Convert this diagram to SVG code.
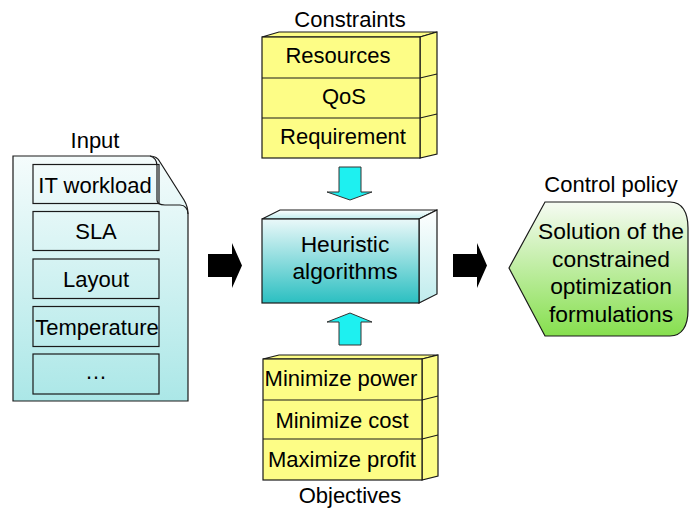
<svg xmlns="http://www.w3.org/2000/svg" width="689" height="512" viewBox="0 0 689 512">
<defs>
<linearGradient id="gDoc" x1="0" y1="0" x2="0" y2="1"><stop offset="0" stop-color="#f5fcfc"/><stop offset="1" stop-color="#abe7e7"/></linearGradient>
<linearGradient id="gFront" x1="0" y1="0" x2="0" y2="1"><stop offset="0" stop-color="#eaf8f9"/><stop offset="1" stop-color="#2bbfc1"/></linearGradient>
<linearGradient id="gSide" x1="0" y1="0" x2="0" y2="1"><stop offset="0" stop-color="#ffffff"/><stop offset="1" stop-color="#bfeced"/></linearGradient>
<linearGradient id="gGreen" x1="0" y1="0" x2="0" y2="1"><stop offset="0" stop-color="#f6fbf3"/><stop offset="1" stop-color="#86df4e"/></linearGradient>
</defs>
<style>
text{font-family:"Liberation Sans",Arial,Helvetica,sans-serif;font-size:22px;fill:#000;text-anchor:middle}
.big{font-size:22.8px}
.ln{stroke:#1a1a1a;stroke-width:1.2;fill:none}
.yel{fill:#fdfd86;stroke:#1a1a1a;stroke-width:1.2}
.cy{fill:#1ef0f0;stroke:#333;stroke-width:1}
.blk{fill:#000}
</style>
<g id="input">
<text x="95" y="148">Input</text>
<path d="M13,156 L150,156 C155,156 158,158 160,162 L184,200 C187,205 188,208 188,214 L188,401 L13,401 Z" fill="url(#gDoc)" stroke="#1a1a1a" stroke-width="1.2"/>
<path class="ln" d="M150,156 C154,157 157,160 157,166 L157,200 C157,203 160,205 165,205 L180,205 C185,205 188,209 188,214"/>
<rect class="ln" x="33" y="164.5" width="126" height="39"/>
<rect class="ln" x="33" y="211.5" width="126" height="39"/>
<rect class="ln" x="33" y="259" width="126" height="39.5"/>
<rect class="ln" x="33" y="306.5" width="126" height="40"/>
<rect class="ln" x="33" y="354" width="126" height="40"/>
<text x="95" y="193">IT workload</text>
<text x="96" y="239">SLA</text>
<text x="96" y="287">Layout</text>
<text x="97" y="335">Temperature</text>
<text x="96" y="379">…</text>
</g>
<g id="constraints">
<text x="350" y="27">Constraints</text>
<polygon class="yel" points="262,37 279,32 437,32 420,37"/>
<polygon class="yel" points="420,37 437,32 437,154 420,158"/>
<rect class="yel" x="262" y="37" width="158" height="121"/>
<path class="ln" d="M262,78 L420,78 L437,74 M262,118 L420,118 L437,114"/>
<text x="338" y="63">Resources</text>
<text x="344" y="104">QoS</text>
<text x="343" y="144">Requirement</text>
</g>
<g id="heuristic">
<polygon points="262,219 280,210 437,210 419,219" fill="url(#gSide)" stroke="#1a1a1a" stroke-width="1.2"/>
<polygon points="419,219 437,210 437,294 419,303" fill="url(#gSide)" stroke="#1a1a1a" stroke-width="1.2"/>
<rect x="262" y="219" width="157" height="84" fill="url(#gFront)" stroke="#1a1a1a" stroke-width="1.2"/>
<text class="big" x="345" y="252">Heuristic</text>
<text class="big" x="345" y="279">algorithms</text>
</g>
<g id="objectives">
<polygon class="yel" points="263,359 279,355 438,355 422,359"/>
<polygon class="yel" points="422,359 438,355 438,476 422,480"/>
<rect class="yel" x="263" y="359" width="159" height="121"/>
<path class="ln" d="M263,400 L422,400 L438,396 M263,439 L422,439 L438,435"/>
<text x="341" y="386">Minimize power</text>
<text x="342" y="428">Minimize cost</text>
<text x="342" y="467">Maximize profit</text>
<text x="350" y="503">Objectives</text>
</g>
<g id="control">
<text x="611" y="192">Control policy</text>
<path d="M545,202 L670,202 C682,202 688,212 688,228 L688,310 C688,326 682,336 670,336 L545,336 L509,268 Z" fill="url(#gGreen)" stroke="#1a1a1a" stroke-width="1.2"/>
<text class="big" x="611" y="239">Solution of the</text>
<text class="big" x="611" y="267">constrained</text>
<text class="big" x="611" y="294">optimization</text>
<text class="big" x="611" y="322">formulations</text>
</g>
<g id="connectors">
<polygon class="blk" points="208,254 232,254 232,243 242,265.5 232,288 232,277 208,277"/>
<polygon class="blk" points="453,254 477,254 477,243 487,265.5 477,288 477,277 453,277"/>
<polygon class="cy" points="339,167 361,167 361,192 372,192 350,200 327,192 339,192"/>
<polygon class="cy" points="350,313 372,322 361,322 361,345 339,345 339,322 327,322"/>
</g>
</svg>
